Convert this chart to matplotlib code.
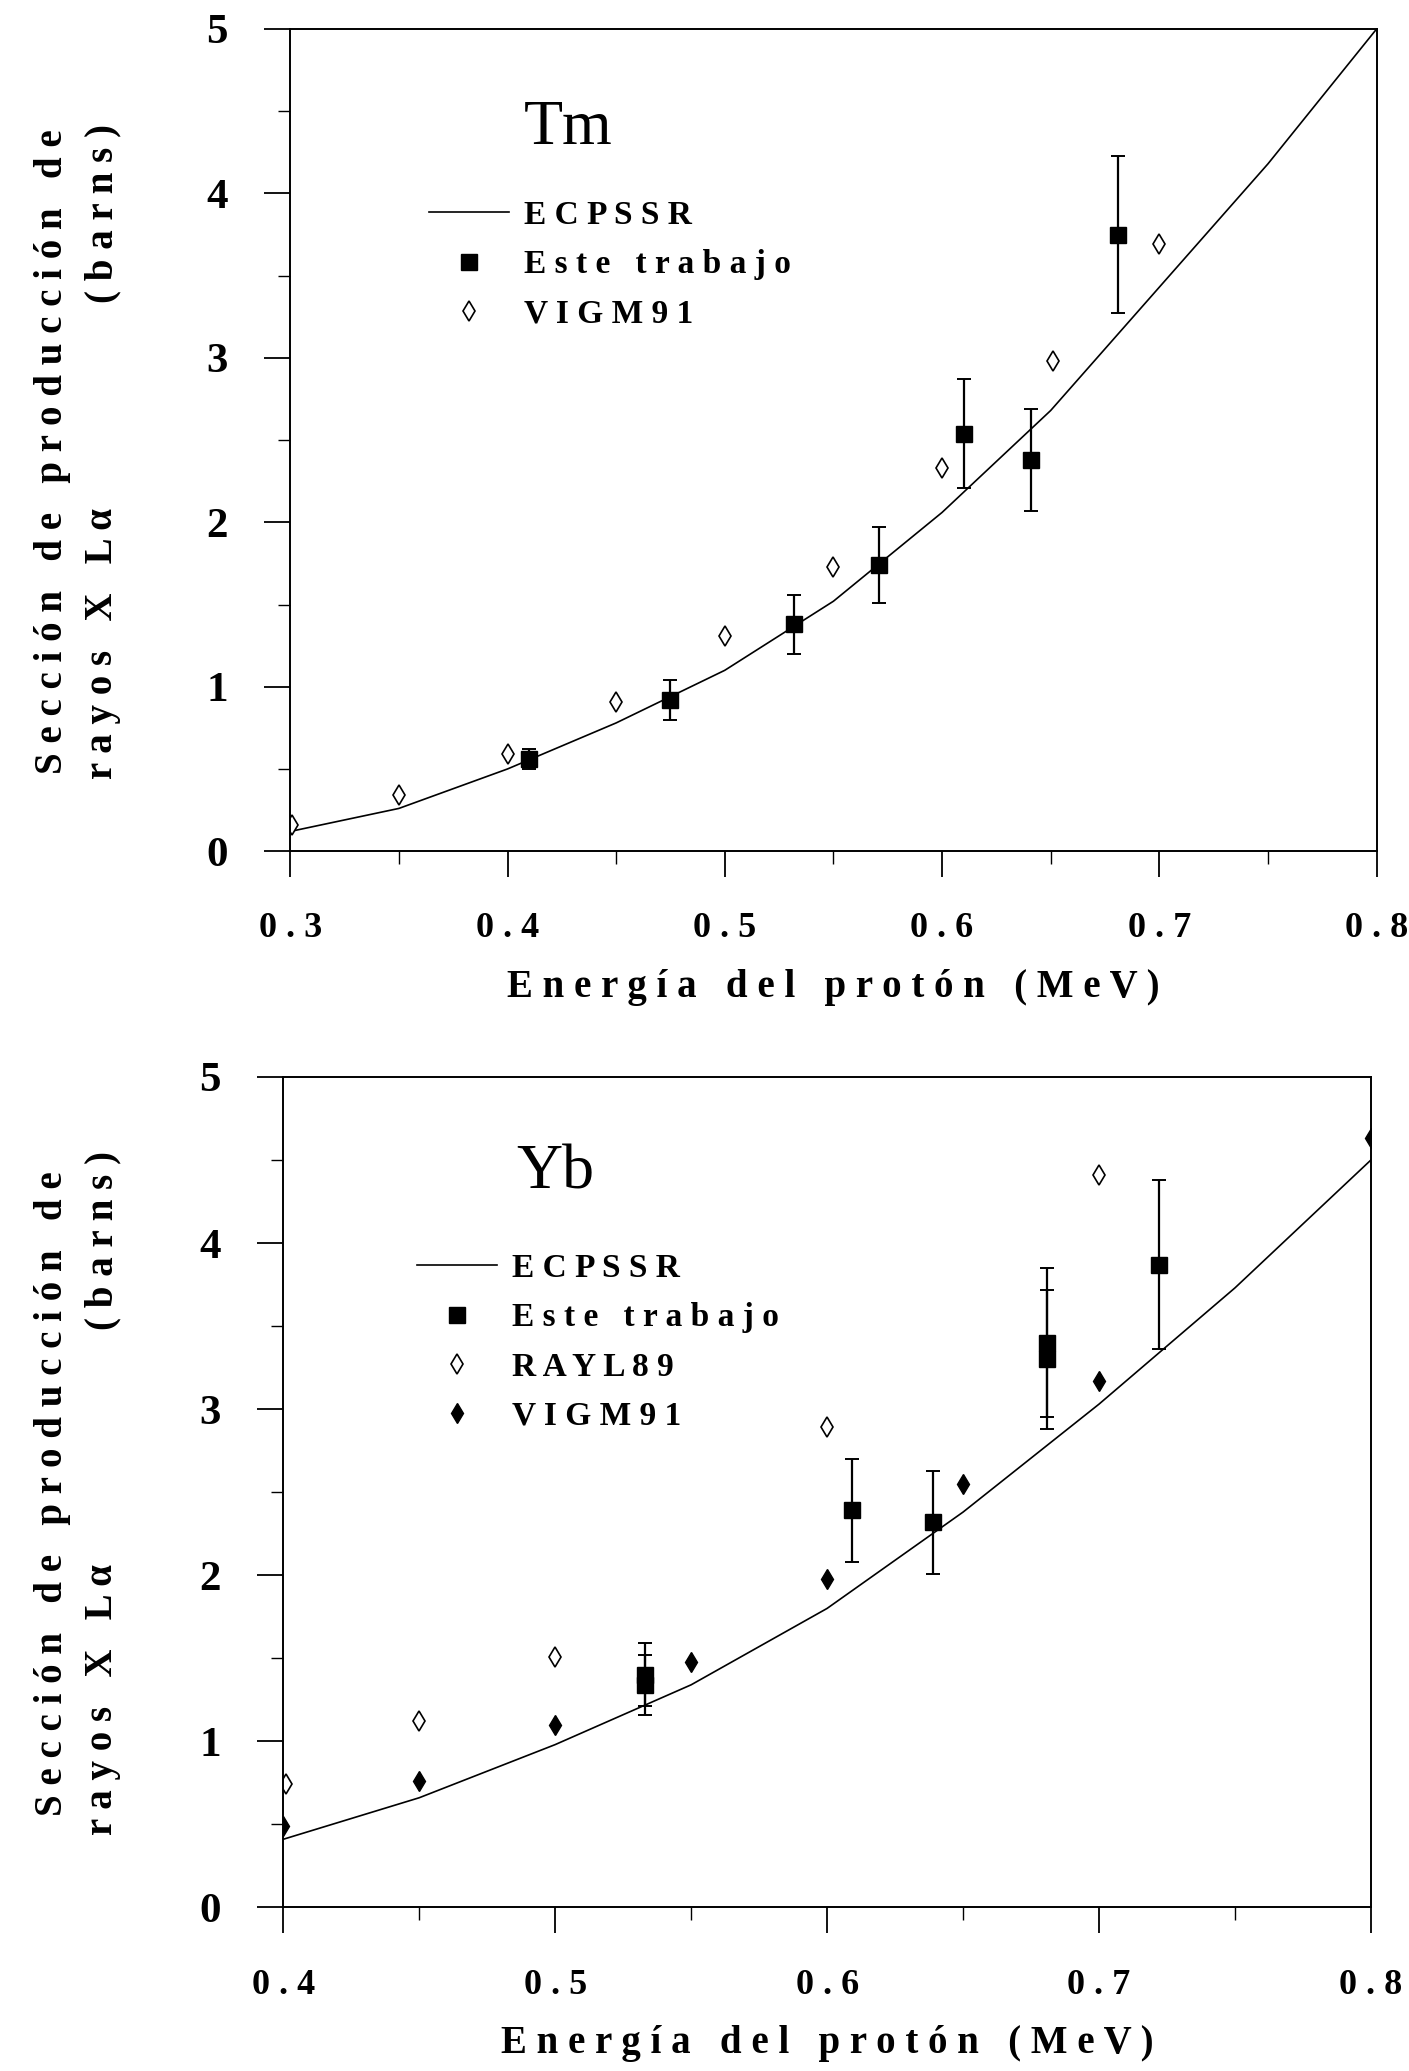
import matplotlib
matplotlib.use("Agg")
import matplotlib.pyplot as plt
from matplotlib.ticker import MultipleLocator

plt.rcParams['font.family'] = ['Liberation Serif', 'DejaVu Serif']
plt.rcParams['font.weight'] = 'bold'
plt.rcParams['axes.labelweight'] = 'bold'

# ---- Tm panel ----
tm_theo_x = [0.30, 0.35, 0.40, 0.45, 0.50, 0.55, 0.60, 0.65, 0.70, 0.75, 0.80]
tm_theo_y = [0.12, 0.26, 0.50, 0.78, 1.10, 1.52, 2.06, 2.68, 3.43, 4.18, 5.00]
tm_exp_x = [0.410, 0.475, 0.532, 0.571, 0.610, 0.641, 0.681]
tm_exp_y = [0.56, 0.92, 1.38, 1.74, 2.54, 2.38, 3.75]
tm_exp_err = [0.06, 0.12, 0.18, 0.23, 0.33, 0.31, 0.48]
tm_vigm_x = [0.301, 0.350, 0.400, 0.450, 0.500, 0.550, 0.600, 0.651, 0.700]
tm_vigm_y = [0.16, 0.34, 0.59, 0.91, 1.31, 1.73, 2.33, 2.98, 3.69]

# ---- Yb panel ----
yb_theo_x = [0.40, 0.45, 0.50, 0.55, 0.60, 0.65, 0.70, 0.75, 0.80]
yb_theo_y = [0.41, 0.66, 0.98, 1.34, 1.80, 2.38, 3.03, 3.73, 4.50]
yb_exp_x = [0.533, 0.533, 0.609, 0.639, 0.681, 0.681, 0.722]
yb_exp_y = [1.40, 1.34, 2.39, 2.32, 3.40, 3.30, 3.87]
yb_exp_err = [0.19, 0.18, 0.31, 0.31, 0.45, 0.42, 0.51]
yb_rayl_x = [0.401, 0.450, 0.500, 0.600, 0.700]
yb_rayl_y = [0.74, 1.12, 1.51, 2.89, 4.41]
yb_vigm_x = [0.400, 0.450, 0.500, 0.550, 0.600, 0.650, 0.700, 0.800]
yb_vigm_y = [0.49, 0.76, 1.10, 1.48, 1.98, 2.55, 3.17, 4.63]


def spaced(s):
    return ' '.join(s)


def style_axes(ax, xlim, xticks):
    ax.set_xlim(*xlim)
    ax.set_ylim(0, 5)
    ax.set_xticks(xticks, [spaced('%.1f' % v) for v in xticks])
    ax.set_yticks(range(6), [str(v) for v in range(6)])
    ax.xaxis.set_minor_locator(MultipleLocator(0.05))
    ax.yaxis.set_minor_locator(MultipleLocator(0.5))
    ax.tick_params(which='major', direction='out', length=19, width=1.3)
    ax.tick_params(which='minor', direction='out', length=9, width=1.0)
    ax.tick_params(axis='x', which='major', pad=25, labelsize=26)
    ax.tick_params(axis='y', which='major', pad=26, labelsize=31)
    for sp in ax.spines.values():
        sp.set_linewidth(1.4)
    ax.set_xlabel(spaced('Energía del protón (MeV)'), fontsize=28, labelpad=17,
                  fontweight='bold')


fig = plt.figure(figsize=(14.09, 20.71), dpi=100)
ax1 = fig.add_axes([0.206, 0.589, 0.771, 0.397])
ax2 = fig.add_axes([0.201, 0.079, 0.772, 0.401])

mk = dict(linestyle='none', color='black')
leg_kw = dict(loc='upper left', frameon=False, fontsize=24, handlelength=2.4,
              handletextpad=0.45, labelspacing=0.55, borderpad=0, borderaxespad=0)

# Tm
ax1.plot(tm_theo_x, tm_theo_y, color='black', lw=1.2, label=spaced('ECPSSR'))
ax1.errorbar(tm_exp_x, tm_exp_y, yerr=tm_exp_err, fmt='none', ecolor='black',
             elinewidth=1.6, capsize=5, capthick=1.4)
ax1.plot(tm_exp_x, tm_exp_y, marker='s', ms=12, **mk, label=spaced('Este trabajo'))
ax1.plot(tm_vigm_x, tm_vigm_y, marker='d', ms=10, mfc='white', mec='black', mew=1.2,
         linestyle='none', label=spaced('VIGM91'))
style_axes(ax1, (0.3, 0.8), [0.3, 0.4, 0.5, 0.6, 0.7, 0.8])
ax1.text(0.256, 0.878, 'Tm', transform=ax1.transAxes, fontsize=46, fontweight='normal',
         ha='center', va='center')
ax1.legend(bbox_to_anchor=(0.128, 0.792), **leg_kw)

# Yb
ax2.plot(yb_theo_x, yb_theo_y, color='black', lw=1.2, label=spaced('ECPSSR'))
ax2.errorbar(yb_exp_x, yb_exp_y, yerr=yb_exp_err, fmt='none', ecolor='black',
             elinewidth=1.6, capsize=5, capthick=1.4)
ax2.plot(yb_exp_x, yb_exp_y, marker='s', ms=12, **mk, label=spaced('Este trabajo'))
ax2.plot(yb_rayl_x, yb_rayl_y, marker='d', ms=10, mfc='white', mec='black', mew=1.2,
         linestyle='none', label=spaced('RAYL89'))
ax2.plot(yb_vigm_x, yb_vigm_y, marker='d', ms=10, **mk, label=spaced('VIGM91'))
style_axes(ax2, (0.4, 0.8), [0.4, 0.5, 0.6, 0.7, 0.8])
ax2.text(0.25, 0.884, 'Yb', transform=ax2.transAxes, fontsize=46, fontweight='normal',
         ha='center', va='center')
ax2.legend(bbox_to_anchor=(0.123, 0.788), **leg_kw)

# two-line y labels
for bottom, top in [(0.624, 0.940), (0.114, 0.444)]:
    fig.text(0.0376, (bottom + top) / 2, spaced('Sección de producción de'),
             rotation=90, fontsize=28, fontweight='bold', ha='center', va='center')
    fig.text(0.073, bottom, spaced('rayos X Lα'), rotation=90, fontsize=28,
             fontweight='bold', ha='center', va='bottom')
    fig.text(0.073, top, spaced('(barns)'), rotation=90, fontsize=28,
             fontweight='bold', ha='center', va='top')

fig.savefig('out.png', dpi=100)
